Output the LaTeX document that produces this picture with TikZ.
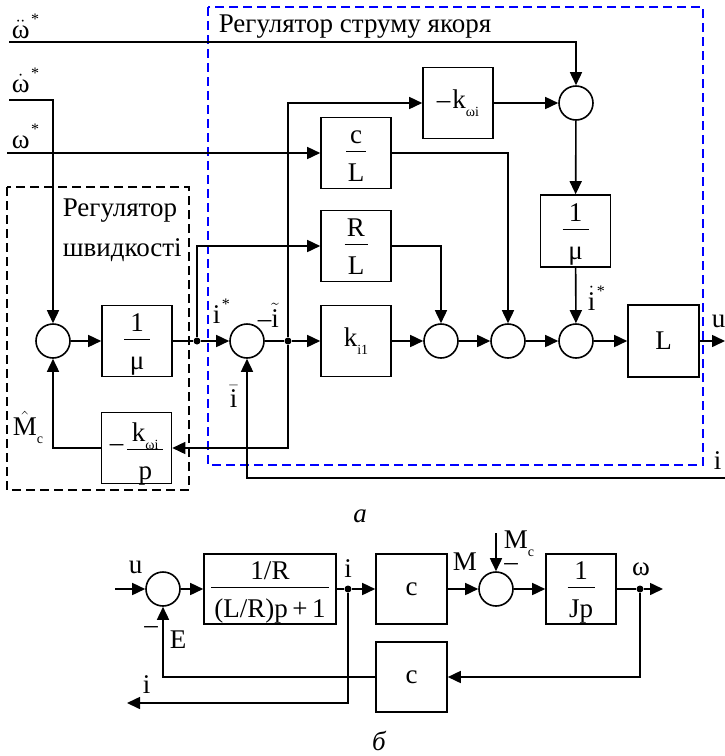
\documentclass[tikz,border=0pt]{standalone}
\usepackage{amsmath}
\usepackage{fontspec}
\setmainfont{Liberation Serif}
\usetikzlibrary{arrows.meta}
\newcommand\lo[1]{\raisebox{-0.3em}{\fontsize{14}{15}\selectfont #1}}
\newcommand\hi[1]{\kern1.5pt\raisebox{0.5em}{\fontsize{16}{17}\selectfont #1}}
% fraction: [rule width]{num}{den}
\newcommand\fr[3][26pt]{\makebox[#1]{\smash{%
  \rlap{\makebox[#1]{\raisebox{10pt}{#2}}}%
  \rlap{\makebox[#1]{\raisebox{1pt}{\rule{#1}{1.3pt}}}}%
  \makebox[#1]{\raisebox{-28pt}{#3}}}}}
\begin{document}
\begin{tikzpicture}[x=1pt,y=-1pt,line width=1.6pt,
  every node/.style={font=\fontsize{27}{32}\selectfont, inner sep=0pt},
  blk/.style={draw, minimum width=70pt, minimum height=71pt},
  sm/.style={draw, circle, minimum size=34pt},
  jn/.style={fill, circle, minimum size=7pt},
  ar/.style={-{Triangle[length=13pt,width=12pt]}},
  lb/.style={anchor=base west}]
\useasboundingbox (0,0) rectangle (725,756);
% frames
\draw[blue, dash pattern=on 9pt off 5pt, line width=1.4pt] (208,7) rectangle (703,465);
\draw[dash pattern=on 9pt off 5pt, line width=1.4pt] (7,187) rectangle (189,490);
% part a nodes
\node[sm] (s1) at (53,341) {};
\node[blk] (b1) at (137,341) {\fr{1}{μ}};
\node[jn] (d1) at (197,341) {};
\node[sm] (s2) at (247,341) {};
\node[jn] (d2) at (288,341) {};
\node[blk] (ki) at (356,341) {k\lo{i1}};
\node[sm] (s3) at (441,341) {};
\node[sm] (s4) at (508,341) {};
\node[sm] (s5) at (576,341) {};
\node[blk, minimum width=71pt, minimum height=72pt] (Lb) at (663.5,341) {L};
\node[blk] (RL) at (356,246) {\fr[23pt]{R}{L}};
\node[blk] (cL) at (356,153) {\fr[20pt]{c}{L}};
\node[blk] (kw) at (458,103) {–\kern2pt k\lo{ωi}};
\node[sm] (s6) at (576,103) {};
\node[blk, minimum height=72pt] (m2) at (575.5,231) {\fr{1}{μ}};
\node[blk] (kp) at (136.5,448) {–\kern4pt\fr[36pt]{k\lo{ωi}}{p}};
\coordinate (wdd) at (9,42);
\coordinate (wd) at (9,100);
\coordinate (w) at (7,153);
\coordinate (uo) at (725,341);
\coordinate (ii) at (725,478);
% part a connectors
\draw[ar] (wdd) -| (s6.north);
\draw[ar] (wd) -| (s1.north);
\draw[ar] (w) -- (cL.west);
\draw[ar] (s1) -- (b1);
\draw (b1) -- (d1);
\draw[ar] (d1) -- (s2);
\draw[ar] (d1) |- (RL.west);
\draw (s2) -- (d2);
\draw[ar] (d2) -- (ki);
\draw[ar] (d2) |- (kw.west);
\draw[ar] (d2) |- (kp.east);
\draw[ar] (kp.west) -| (s1.south);
\draw[ar] (ki) -- (s3);
\draw[ar] (s3) -- (s4);
\draw[ar] (s4) -- (s5);
\draw[ar] (s5) -- (Lb);
\draw[ar] (Lb) -- (uo);
\draw[ar] (RL.east) -| (s3.north);
\draw[ar] (cL.east) -| (s4.north);
\draw[ar] (kw) -- (s6);
\draw[ar] (s6) -- (m2);
\draw[ar] (m2) -- (s5);
\draw[ar] (ii) -| (s2.south);
% part a labels
\node[lb] at (11,38) {$\ddot{\text{ω}}$\hi{*}};
\node[lb] at (11,92) {$\dot{\text{ω}}$\hi{*}};
\node[lb] at (11,148) {ω\hi{*}};
\node[lb] at (218,32) {Регулятор струму якоря};
\node[lb] at (62,216) {Регулятор};
\node[lb] at (62,256) {швидкості};
\node[lb] at (212,323) {i\hi{*}};
\node[lb] at (257,327) {–$\tilde{\text{i}}$};
\node[lb] at (229,407) {$\bar{\text{i}}$};
\node[lb] at (587,310) {$\dot{\text{i}}$\hi{*}};
\node[lb] at (711,327) {u};
\node[lb] at (713,469) {i};
\node[lb] at (12,435) {$\hat{\text{M}}$\lo{c}};
\node[anchor=base] at (360,522) {\itshape а};
% part b nodes
\node[sm] (t1) at (163,589) {};
\node[blk, minimum width=132pt, minimum height=70pt] (r) at (270,589) {\fr[118pt]{1/R}{(L/R)p\,+\,1}};
\node[jn] (di) at (348,589) {};
\node[blk, minimum width=71pt, minimum height=70pt] (c1) at (411.5,589) {c};
\node[sm] (t2) at (496,589) {};
\node[blk, minimum height=70pt] (jp) at (581,589) {\fr[27pt]{1}{Jp}};
\node[jn] (dw) at (640,589) {};
\node[blk, minimum width=71pt, minimum height=70pt] (c2) at (411.5,677) {c};
\coordinate (ub) at (115,589);
\coordinate (wo) at (663,589);
\coordinate (mc) at (496,533);
\coordinate (io) at (127,703);
% part b connectors
\draw[ar] (ub) -- (t1);
\draw[ar] (t1) -- (r);
\draw (r) -- (di);
\draw[ar] (di) -- (c1);
\draw[ar] (c1) -- (t2);
\draw[ar] (mc) -- (t2.north);
\draw[ar] (t2) -- (jp);
\draw (jp) -- (dw);
\draw[ar] (dw) -- (wo);
\draw[ar] (dw) |- (c2.east);
\draw[ar] (c2.west) -| (t1.south);
\draw[ar] (di) |- (io);
% part b labels
\node[lb] at (128,573) {u};
\node[anchor=base] at (348,577) {i};
\node[lb] at (452,570) {M};
\node[lb] at (503,548) {M\lo{c}};
\node[anchor=base] at (511,570) {–};
\node[anchor=base] at (151,633) {–};
\node[lb] at (169,648) {E};
\node[lb] at (142,693) {i};
\node[anchor=base] at (641,575) {ω};
\node[anchor=base] at (379,750) {\itshape б};
\end{tikzpicture}
\end{document}
